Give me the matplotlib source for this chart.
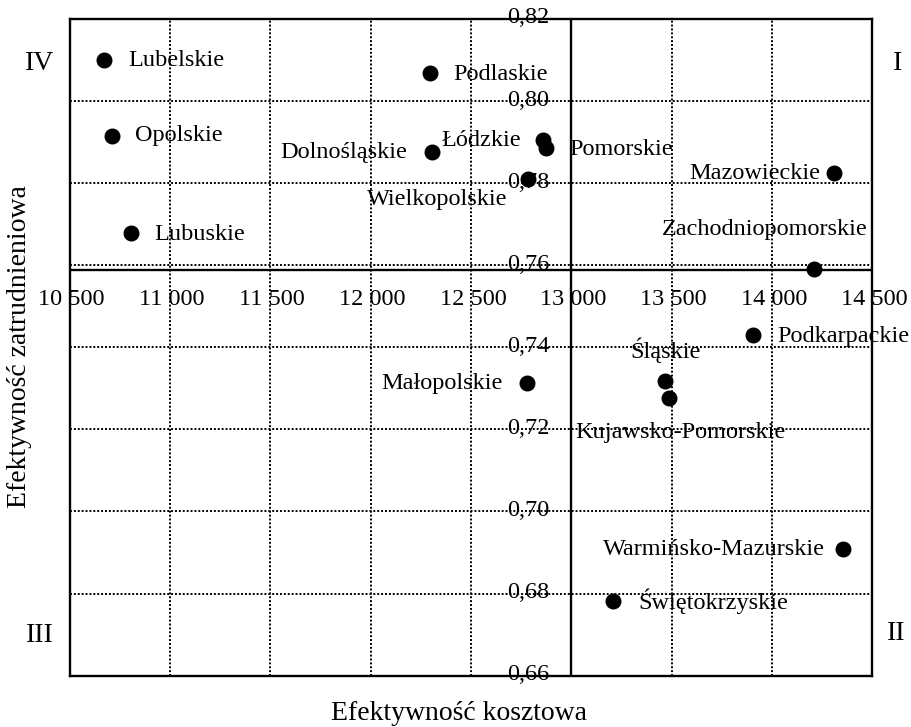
import matplotlib
matplotlib.use("Agg")
import matplotlib.pyplot as plt

plt.rcParams["font.family"] = ["Liberation Serif", "DejaVu Serif"]
plt.rcParams["font.size"] = 17.5

# data
regions = ["Lubelskie", "Opolskie", "Lubuskie", "Podlaskie", "Dolnośląskie",
           "Łódzkie", "Pomorskie", "Wielkopolskie", "Mazowieckie",
           "Zachodniopomorskie", "Podkarpackie", "Śląskie",
           "Kujawsko-Pomorskie", "Małopolskie", "Warmińsko-Mazurskie",
           "Świętokrzyskie"]
cost_eff = [10672, 10712, 10806, 12296, 12306, 12860, 12873, 12782, 14309,
            14209, 13906, 13467, 13487, 12778, 14351, 13208]
empl_eff = [0.810, 0.7915, 0.7679, 0.8068, 0.7876, 0.7905, 0.7886, 0.781,
            0.7824, 0.759, 0.743, 0.7318, 0.7277, 0.7313, 0.6909, 0.6783]
x_ticks = [10500, 11000, 11500, 12000, 12500, 13000, 13500, 14000, 14500]
y_ticks = [0.66, 0.68, 0.70, 0.72, 0.74, 0.76, 0.78, 0.80, 0.82]
x_cross = 13000
y_cross = 0.7588

# label placement (pixels: dx right, dy down, alignment)
offsets = {
    "Lubelskie": (24, 0, "left"),
    "Opolskie": (23, 0, "left"),
    "Lubuskie": (23, 2, "left"),
    "Podlaskie": (23, 1, "left"),
    "Dolnośląskie": (-25, 1, "right"),
    "Łódzkie": (-22, 0, "right"),
    "Pomorskie": (23, 2, "left"),
    "Wielkopolskie": (-20, 20, "right"),
    "Mazowieckie": (-14, 0, "right"),
    "Zachodniopomorskie": (54, -40, "right"),
    "Podkarpackie": (24, 1, "left"),
    "Śląskie": (0, -31, "center"),
    "Kujawsko-Pomorskie": (11, 35, "center"),
    "Małopolskie": (-24, 0, "right"),
    "Warmińsko-Mazurskie": (-18, 1, "right"),
    "Świętokrzyskie": (25, 1, "left"),
}

fig = plt.figure(figsize=(9.11, 7.27), dpi=100)
ax = fig.add_axes([0.0763, 0.0706, 0.8814, 0.9033])
ax.set_xlim(x_ticks[0], x_ticks[-1])
ax.set_ylim(y_ticks[0], y_ticks[-1])
ax.set_xticks(x_ticks)
ax.set_yticks(y_ticks)
ax.tick_params(length=0, labelbottom=False, labelleft=False)
ax.grid(True, color="black", linestyle=(0, (1, 1)), linewidth=1.4)
for sp in ax.spines.values():
    sp.set_linewidth(1.7)
    sp.set_color("black")

ax.axvline(x_cross, color="black", linewidth=1.7)
ax.axhline(y_cross, color="black", linewidth=1.7)

ax.scatter(cost_eff, empl_eff, s=110, color="black", zorder=5)

for name, xv, yv in zip(regions, cost_eff, empl_eff):
    dx, dy, ha = offsets[name]
    ax.annotate(name, xy=(xv, yv), xytext=(dx, -dy), textcoords="offset pixels",
                ha=ha, va="center", zorder=6)

for v in x_ticks:
    lab = f"{v:,}".replace(",", " ")
    ax.annotate(lab, xy=(v, y_cross), xytext=(2, -29), textcoords="offset pixels",
                ha="center", va="center", annotation_clip=False)
for v in y_ticks:
    lab = f"{v:.2f}".replace(".", ",")
    ax.annotate(lab, xy=(x_cross, v), xytext=(-22, 1), textcoords="offset pixels",
                ha="right", va="center", annotation_clip=False)

fig.text(459 / 911, 1 - 713 / 727, "Efektywność kosztowa", ha="center",
         va="center", fontsize=20)
fig.text(20 / 911, 1 - 347 / 727, "Efektywność zatrudnieniowa", ha="center",
         va="center", rotation=90, fontsize=20)

quad = {"IV": (40, 64), "I": (898, 63), "III": (40, 636), "II": (896, 634)}
for q, (px, py) in quad.items():
    fig.text(px / 911, 1 - py / 727, q, ha="center", va="center", fontsize=20)

fig.savefig("out.png", dpi=100)
